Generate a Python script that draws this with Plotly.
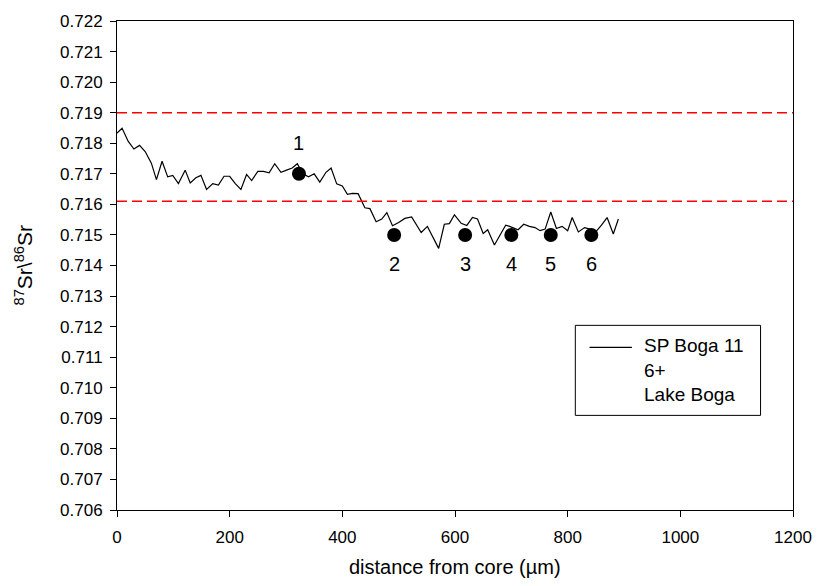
import plotly.graph_objects as go

# Laser-ablation transect of 87Sr/86Sr across the otolith, core to edge
distance_um = [0, 9, 20, 30, 40, 50, 61, 70, 80, 90, 99, 109, 121, 130, 140, 149,
               159, 170, 180, 190, 200, 210, 220, 230, 239, 250, 260, 270, 280, 291,
               301, 311, 320, 330, 340, 350, 360, 371, 380, 390, 400, 409, 418, 428,
               440, 449, 460, 470, 479, 489, 500, 511, 523, 540, 551, 571, 581, 590,
               599, 611, 621, 631, 640, 650, 658, 670, 681, 690, 697, 704, 712, 722,
               732, 742, 751, 760, 770, 780, 790, 800, 808, 819, 830, 840, 850, 860,
               870, 881, 890]
sr_ratio = [0.71833, 0.71849, 0.71806, 0.71781, 0.71793, 0.71773, 0.71735, 0.71681,
            0.71741, 0.71690, 0.71695, 0.71668, 0.71712, 0.71670, 0.71687, 0.71695,
            0.71649, 0.71668, 0.71663, 0.71692, 0.71692, 0.71668, 0.71649, 0.71698,
            0.71678, 0.71708, 0.71708, 0.71703, 0.71733, 0.71705, 0.71712, 0.71719,
            0.71733, 0.71700, 0.71690, 0.71700, 0.71673, 0.71705, 0.71719, 0.71667,
            0.71660, 0.71633, 0.71636, 0.71635, 0.71589, 0.71586, 0.71543, 0.71552,
            0.71573, 0.71530, 0.71541, 0.71554, 0.71559, 0.71508, 0.71528, 0.71456,
            0.71535, 0.71537, 0.71566, 0.71538, 0.71531, 0.71557, 0.71552, 0.71505,
            0.71517, 0.71467, 0.71503, 0.71532, 0.71528, 0.71524, 0.71517, 0.71535,
            0.71528, 0.71524, 0.71514, 0.71519, 0.71575, 0.71521, 0.71528, 0.71514,
            0.71557, 0.71510, 0.71524, 0.71519, 0.71510, 0.71532, 0.71557, 0.71503,
            0.71552]

# Numbered sampling spots along the transect
spot_x = [323, 492, 618, 700, 770, 842]
spot_y = [0.717, 0.715, 0.715, 0.715, 0.715, 0.715]
spot_labels = ["1", "2", "3", "4", "5", "6"]

# Reference 87Sr/86Sr levels (dashed)
ref_levels = [0.719, 0.7161]

legend_label = "SP Boga 11<br>6+<br>Lake Boga"

x_ticks = [0, 200, 400, 600, 800, 1000, 1200]

FONT = "Liberation Sans, Arial, sans-serif"
TICK_FS = 17
TEXT_FS = 20

fig = go.Figure()

fig.add_trace(go.Scatter(
    x=distance_um, y=sr_ratio, mode="lines",
    line=dict(color="black", width=1.2), showlegend=False, hoverinfo="skip"))

fig.add_trace(go.Scatter(
    x=spot_x, y=spot_y, mode="markers",
    marker=dict(color="black", size=14, line=dict(width=0)),
    showlegend=False, hoverinfo="skip"))

for lvl in ref_levels:
    fig.add_shape(type="line", xref="paper", x0=0, x1=1, yref="y", y0=lvl, y1=lvl,
                  line=dict(color="#FF0000", width=1.5, dash="10px,5px"))

# spot numbers: first above its dot, the rest below
for i, (sx, sy, lab) in enumerate(zip(spot_x, spot_y, spot_labels)):
    fig.add_annotation(x=sx, y=sy, text=lab, showarrow=False,
                       yshift=31 if i == 0 else -29,
                       font=dict(family=FONT, size=TEXT_FS, color="black"))

# legend box drawn in paper space
fig.add_shape(type="rect", xref="paper", yref="paper",
              x0=0.678, x1=0.952, y0=0.1935, y1=0.3776,
              line=dict(color="black", width=1), fillcolor="white", layer="above")
fig.add_shape(type="line", xref="paper", yref="paper",
              x0=0.699, x1=0.7617, y0=0.3327, y1=0.3327,
              line=dict(color="black", width=1.2), layer="above")
fig.add_annotation(xref="paper", yref="paper", x=0.7763, y=0.2873,
                   xanchor="left", yanchor="middle", align="left",
                   text=legend_label, showarrow=False,
                   font=dict(family=FONT, size=19, color="black"))

# axis titles
fig.add_annotation(xref="paper", yref="paper", x=0.5, y=-0.117,
                   text="distance from core (µm)", showarrow=False,
                   xanchor="center", yanchor="middle",
                   font=dict(family=FONT, size=TEXT_FS, color="black"))
fig.add_annotation(xref="paper", yref="paper", x=-0.139, y=0.5,
                   text="<sup>87</sup>Sr\\<sup>86</sup>Sr", showarrow=False,
                   textangle=-90, xanchor="center", yanchor="middle",
                   font=dict(family=FONT, size=21, color="black"))

fig.update_layout(
    width=824, height=586,
    margin=dict(l=117, r=23, t=14, b=76),
    paper_bgcolor="white", plot_bgcolor="white",
    font=dict(family=FONT, size=TICK_FS, color="black"),
)
fig.update_xaxes(range=[0, 1200], tickvals=x_ticks, ticks="outside", ticklen=6,
                 tickcolor="black", showline=True, linecolor="black", linewidth=1,
                 mirror=True, showgrid=False, zeroline=False, ticklabelstandoff=6)
fig.update_yaxes(range=[0.706, 0.722], dtick=0.001, tick0=0.706, tickformat=".3f",
                 ticks="outside", ticklen=6, tickcolor="black", showline=True,
                 linecolor="black", linewidth=1, mirror=True, showgrid=False,
                 zeroline=False, ticklabelstandoff=4)

fig.write_html("out.html")
